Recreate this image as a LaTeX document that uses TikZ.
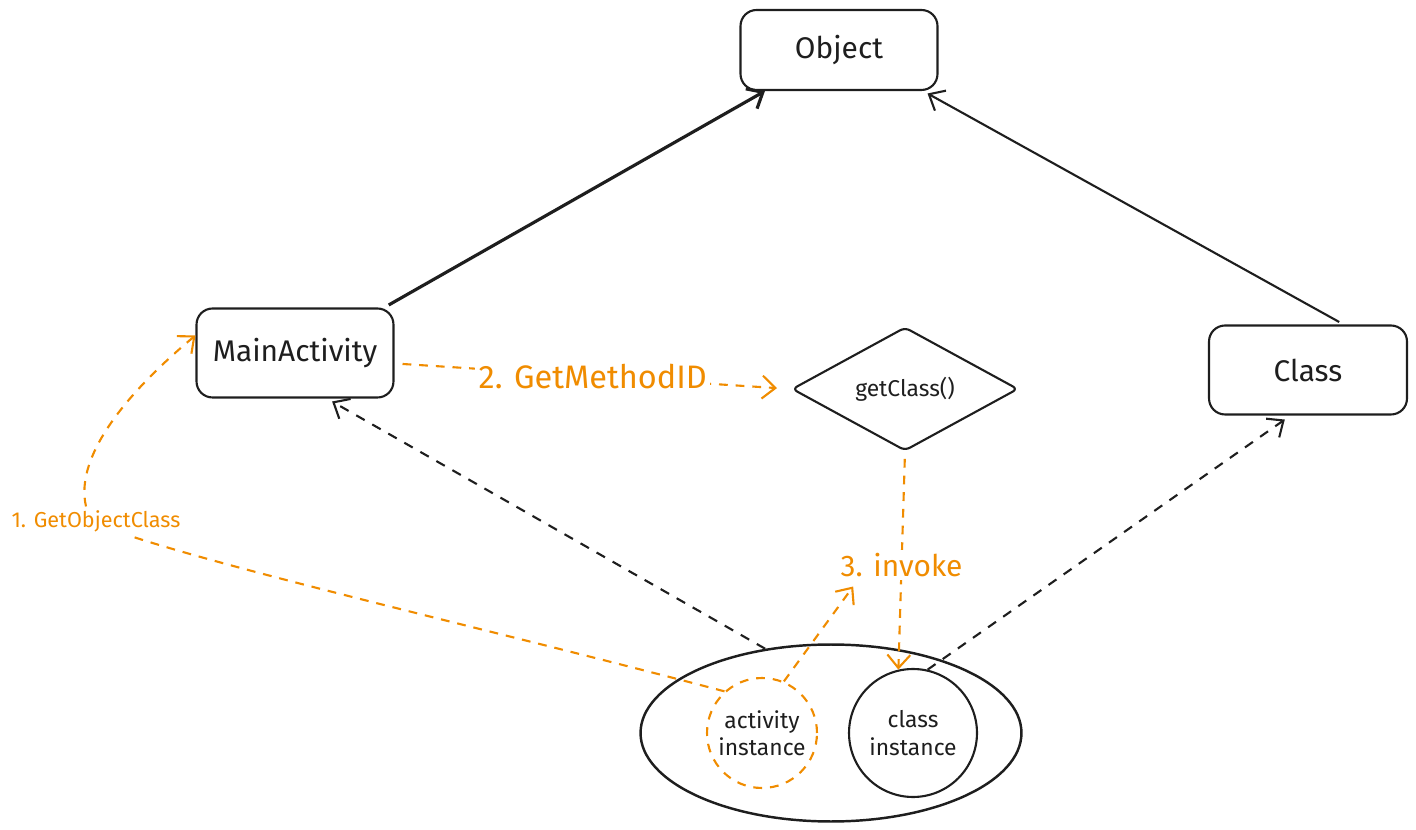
\documentclass[tikz,border=0pt]{standalone}
\usepackage{fontspec}
\setmainfont{Fira Sans}
\usetikzlibrary{arrows.meta,shapes.geometric,calc}
\definecolor{ink}{HTML}{1E1E1E}
\definecolor{flow}{HTML}{F08C00}
\begin{document}
\begin{tikzpicture}[x=0.02cm,y=-0.02cm,
  box/.style={draw=ink,line width=1.2pt,rounded corners=0.32cm,inner sep=0pt,
    minimum width=3.94cm,minimum height=1.78cm,text=ink,font=\fontsize{17}{20}\selectfont},
  smalltext/.style={text=ink,font=\fontsize{13}{15.5}\selectfont,align=center},
  arrowed/.style={-{Straight Barb[length=7.5pt,width=13pt]}},
  inkline/.style={draw=ink,line width=1.2pt},
  kdash/.style={draw=ink,line width=1.2pt,dash pattern=on 5.5pt off 5pt},
  odash/.style={draw=flow,line width=1.2pt,dash pattern=on 5pt off 4.5pt},
  flowlabel/.style={text=flow,fill=white,inner sep=2pt},
]
\useasboundingbox (0,0) rectangle (1416,830);

% class hierarchy boxes
\node[box,minimum height=1.6cm] (obj) at (839,50) {Object};
\node[box] (ma) at (295,353) {MainActivity};
\node[box,minimum width=3.96cm] (cls) at (1308,370) {Class};

% method id
\node[draw=ink,line width=1.2pt,shape=diamond,rounded corners=3pt,inner sep=0pt,
  minimum width=4.52cm,minimum height=2.2cm,smalltext] (gc) at (905,389) {getClass()};

% runtime instances
\node[draw=ink,line width=1.4pt,shape=ellipse,inner sep=0pt,
  minimum width=7.62cm,minimum height=3.54cm] (ell) at (831,733) {};
\node[draw=flow,line width=1.2pt,dash pattern=on 5pt off 4.5pt,circle,inner sep=0pt,
  minimum size=2.2cm,smalltext] (ai) at (762,733) {activity\\instance};
\node[draw=ink,line width=1.2pt,circle,inner sep=0pt,
  minimum size=2.56cm,smalltext] (ci) at (913,733) {class\\instance};

% inheritance
\draw[inkline,line width=1.8pt,arrowed,shorten <=0.1cm] (ma.27) -- (obj.209);
\draw[inkline,arrowed,shorten <=0.1cm,shorten >=0.1cm] (cls.52) -- (obj.334);

% instance-of links
\draw[kdash,arrowed,shorten >=0.12cm] (ell.128) -- (ma.305);
\draw[kdash,arrowed,shorten >=0.14cm] (ci.77) -- (cls.249);

% JNI call sequence
\node[text=flow,inner sep=2pt,font=\fontsize{12.3}{14}\selectfont] (lab1) at (96,521) {1. GetObjectClass};
\draw[odash] (ai.132) .. controls (500,632) and (250,575) .. ([xshift=0.66cm]lab1.south);
\draw[odash,arrowed] ([xshift=-0.2cm]lab1.north) .. controls (74,455) and (130,390) .. (ma.170);

\draw[odash,arrowed,shorten <=0.16cm,shorten >=0.28cm] (ma.-6) --
  node[flowlabel,pos=0.5,font=\fontsize{18.5}{22}\selectfont] (lab2) {2. GetMethodID} (gc.west);

\draw[odash,arrowed,shorten <=0.14cm] (gc.south) --
  node[flowlabel,pos=0.52,font=\fontsize{17}{20}\selectfont] (inv) {3. invoke} (ci.103);
\draw[odash,arrowed] (ai.67) -- ($(inv.south west)+(17,5)$);
\end{tikzpicture}
\end{document}
